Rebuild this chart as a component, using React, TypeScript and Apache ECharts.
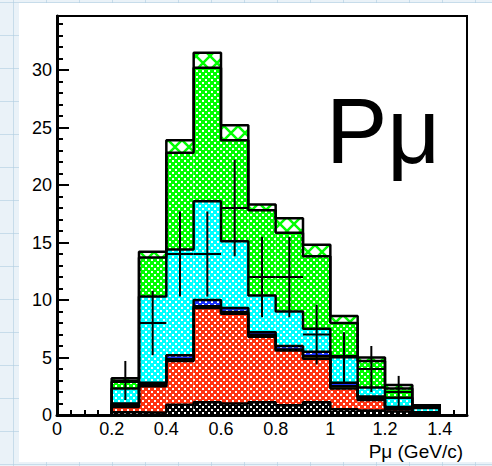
import React, { useEffect, useRef } from "react";
import * as echarts from "echarts";

// Histogram bins (P_mu, GeV/c)
const binCenters = [0.25, 0.35, 0.45, 0.55, 0.65, 0.75, 0.85, 0.95, 1.05, 1.15, 1.25, 1.35];
const binHalf = 0.05;

// Stacked MC components, bottom to top
const blackComp = [0.25, 0.2, 0.9, 1.1, 1.0, 1.1, 0.85, 1.1, 0.5, 0.4, 0.3, 0.1];
const redComp = [0.45, 2.3, 3.8, 8.2, 7.8, 5.7, 4.75, 3.8, 1.8, 0.9, 0.2, 0.05];
const oliveComp = [0.15, 0.2, 0.15, 0.15, 0.15, 0.15, 0.1, 0.2, 0.2, 0.15, 0.1, 0.05];
const blueComp = [0.15, 0.1, 0.35, 0.55, 0.35, 0.25, 0.3, 0.4, 0.3, 0.15, 0.1, 0.05];
const cyanComp = [1.3, 7.5, 9.2, 8.6, 5.8, 3.2, 3.0, 2.0, 2.3, 0.8, 0.8, 0.35];
const greenComp = [0.6, 3.4, 8.4, 11.6, 8.8, 7.4, 6.85, 6.3, 2.9, 2.3, 0.8, 0.15];
const hatchComp = [0.3, 0.5, 1.1, 1.3, 1.3, 0.5, 1.25, 1.0, 0.6, 0.3, 0.3, 0.1];

// Data points with errors
const dataX = [0.25, 0.35, 0.45, 0.55, 0.65, 0.75, 0.85, 0.95, 1.05, 1.15, 1.25];
const dataY = [3, 8, 14, 14, 18, 12, 12, 7, 5, 4, 2];
const dataErr = [1.7, 2.8, 3.7, 3.7, 4.2, 3.5, 3.5, 2.6, 2.2, 2.0, 1.4];

const yTickLabels = ["0", "5", "10", "15", "20", "25", "30"];

function dotPattern(color: string) {
  const s = 6;
  const c = document.createElement("canvas");
  c.width = s;
  c.height = s;
  const g = c.getContext("2d")!;
  g.fillStyle = color;
  g.fillRect(0, 0, s, s);
  g.fillStyle = "#ffffff";
  g.fillRect(1, 1, 2, 2);
  g.fillRect(4, 4, 2, 2);
  return { image: c.toDataURL(), repeat: "repeat", imageWidth: s, imageHeight: s };
}

function hatchPattern(color: string) {
  const s = 14;
  const c = document.createElement("canvas");
  c.width = s;
  c.height = s;
  const g = c.getContext("2d")!;
  g.fillStyle = "#ffffff";
  g.fillRect(0, 0, s, s);
  g.strokeStyle = color;
  g.lineWidth = 2.5;
  g.beginPath();
  g.moveTo(-1, -1);
  g.lineTo(s + 1, s + 1);
  g.moveTo(s + 1, -1);
  g.lineTo(-1, s + 1);
  g.stroke();
  return { image: c.toDataURL(), repeat: "repeat", imageWidth: s, imageHeight: s };
}

export default function App() {
  const ref = useRef<HTMLDivElement>(null);

  useEffect(() => {
    if (!ref.current) return;
    const chart = echarts.init(ref.current, undefined, { renderer: "svg" });

    const layers = [
      { vals: blackComp, fill: dotPattern("#000000") },
      { vals: redComp, fill: dotPattern("#ff3311") },
      { vals: oliveComp, fill: "#b8a800" },
      { vals: blueComp, fill: dotPattern("#1a33ff") },
      { vals: cyanComp, fill: dotPattern("#00ffff") },
      { vals: greenComp, fill: dotPattern("#00ff00") },
      { vals: hatchComp, fill: hatchPattern("#00ff00") },
    ];

    const base = binCenters.map(() => 0);
    const fillSeries: any[] = [];
    const outlineSeries: any[] = [];
    layers.forEach((layer, li) => {
      const items = binCenters.map((c, i) => {
        const b = base[i];
        const t = b + layer.vals[i];
        return [c, b, t];
      });
      items.forEach((it, i) => (base[i] = it[2]));
      const fill = layer.fill;
      fillSeries.push({
        type: "custom",
        name: "layer" + li,
        xAxisIndex: 0,
        yAxisIndex: 0,
        z: 2,
        silent: true,
        data: items,
        renderItem: (params: any, api: any) => {
          const x = api.value(0);
          const b = api.value(1);
          const t = api.value(2);
          const p0 = api.coord([x - binHalf, t]);
          const p1 = api.coord([x + binHalf, b]);
          return {
            type: "rect",
            shape: { x: p0[0], y: p0[1], width: p1[0] - p0[0], height: p1[1] - p0[1] },
            style: { fill },
          };
        },
      });
      const pts: number[][] = [[binCenters[0] - binHalf, 0]];
      items.forEach((it) => pts.push([it[0] - binHalf, it[2]]));
      pts.push([binCenters[binCenters.length - 1] + binHalf, 0]);
      outlineSeries.push({
        type: "line",
        xAxisIndex: 0,
        yAxisIndex: 0,
        step: "end",
        symbol: "none",
        silent: true,
        z: 3,
        lineStyle: { color: "#000", width: 2.5 },
        data: pts,
      });
    });

    const errData = dataX.map((x, i) => [x, dataY[i], dataErr[i]]);

    const gridRect = { left: 57, right: 25, top: 16, bottom: 51 };
    const font = "Liberation Sans";

    chart.setOption({
      animation: false,
      textStyle: { fontFamily: font },
      grid: [
        { ...gridRect, show: true, borderColor: "#000", borderWidth: 2, backgroundColor: "#fff" },
        { ...gridRect, show: false },
      ],
      xAxis: [
        {
          type: "value",
          gridIndex: 0,
          min: 0,
          max: 1.5,
          interval: 0.2,
          axisLine: { show: true, onZero: false, lineStyle: { color: "#000", width: 3 } },
          axisTick: { show: true, inside: true, length: 11, lineStyle: { color: "#000", width: 2 } },
          axisLabel: {
            show: true,
            showMaxLabel: false,
            fontSize: 18,
            color: "#000",
            fontFamily: font,
            margin: 5,
            formatter: (v: number) => String(Math.round(v * 10) / 10),
          },
          splitLine: { show: false },
        },
        {
          type: "value",
          gridIndex: 1,
          min: 0,
          max: 1.5,
          interval: 0.05,
          axisLine: { show: false },
          axisTick: { show: true, inside: true, length: 5, lineStyle: { color: "#000", width: 2 } },
          axisLabel: { show: false },
          splitLine: { show: false },
        },
      ],
      yAxis: [
        {
          type: "value",
          gridIndex: 0,
          min: 0,
          max: 34.7,
          interval: 5,
          axisLine: { show: true, onZero: false, lineStyle: { color: "#000", width: 3 } },
          axisTick: { show: true, inside: true, length: 12, lineStyle: { color: "#000", width: 2 } },
          axisLabel: {
            show: true,
            showMaxLabel: false,
            fontSize: 18,
            color: "#000",
            fontFamily: font,
            margin: 5,
            formatter: (v: number) => yTickLabels[Math.round(v / 5)] ?? "",
          },
          splitLine: { show: false },
        },
        {
          type: "value",
          gridIndex: 1,
          min: 0,
          max: 34.7,
          interval: 1,
          axisLine: { show: false },
          axisTick: { show: true, inside: true, length: 6, lineStyle: { color: "#000", width: 2 } },
          axisLabel: { show: false },
          splitLine: { show: false },
        },
      ],
      graphic: [
        {
          type: "text",
          z: 10,
          x: 326,
          y: 131,
          style: {
            text: "Pμ",
            font: `92px "${font}"`,
            fill: "#000",
            textAlign: "left",
            textVerticalAlign: "middle",
          },
        },
        {
          type: "text",
          z: 10,
          x: 463,
          y: 451,
          style: {
            text: "Pμ (GeV/c)",
            font: `19px "${font}"`,
            fill: "#000",
            textAlign: "right",
            textVerticalAlign: "middle",
          },
        },
      ],
      series: [
        ...fillSeries,
        ...outlineSeries,
        {
          type: "custom",
          name: "data",
          xAxisIndex: 0,
          yAxisIndex: 0,
          z: 4,
          silent: true,
          data: errData,
          renderItem: (params: any, api: any) => {
            const x = api.value(0);
            const y = api.value(1);
            const e = api.value(2);
            const t = api.coord([x, y + e]);
            const b = api.coord([x, Math.max(0, y - e)]);
            const l = api.coord([x - binHalf, y]);
            const r = api.coord([x + binHalf, y]);
            return {
              type: "group",
              children: [
                { type: "line", shape: { x1: t[0], y1: t[1], x2: b[0], y2: b[1] }, style: { stroke: "#000", lineWidth: 2 } },
                { type: "line", shape: { x1: l[0], y1: l[1], x2: r[0], y2: r[1] }, style: { stroke: "#000", lineWidth: 2 } },
              ],
            };
          },
        },
      ],
    });

    return () => chart.dispose();
  }, []);

  return (
    <div
      style={{
        position: "fixed",
        left: 0,
        top: 0,
        width: 492,
        height: 466,
        backgroundColor: "#eaf2f8",
        backgroundImage:
          "linear-gradient(to right, rgba(175,205,225,0.6) 1px, transparent 1px), linear-gradient(to bottom, rgba(175,205,225,0.6) 1px, transparent 1px)",
        backgroundSize: "33px 33px",
        backgroundPosition: "13px 2px",
        overflow: "hidden",
      }}
    >
      <div style={{ position: "absolute", left: 19, top: 3, width: 473, height: 459, background: "#fff" }} />
      <div ref={ref} style={{ position: "absolute", left: 0, top: 0, width: 492, height: 466 }} />
    </div>
  );
}
